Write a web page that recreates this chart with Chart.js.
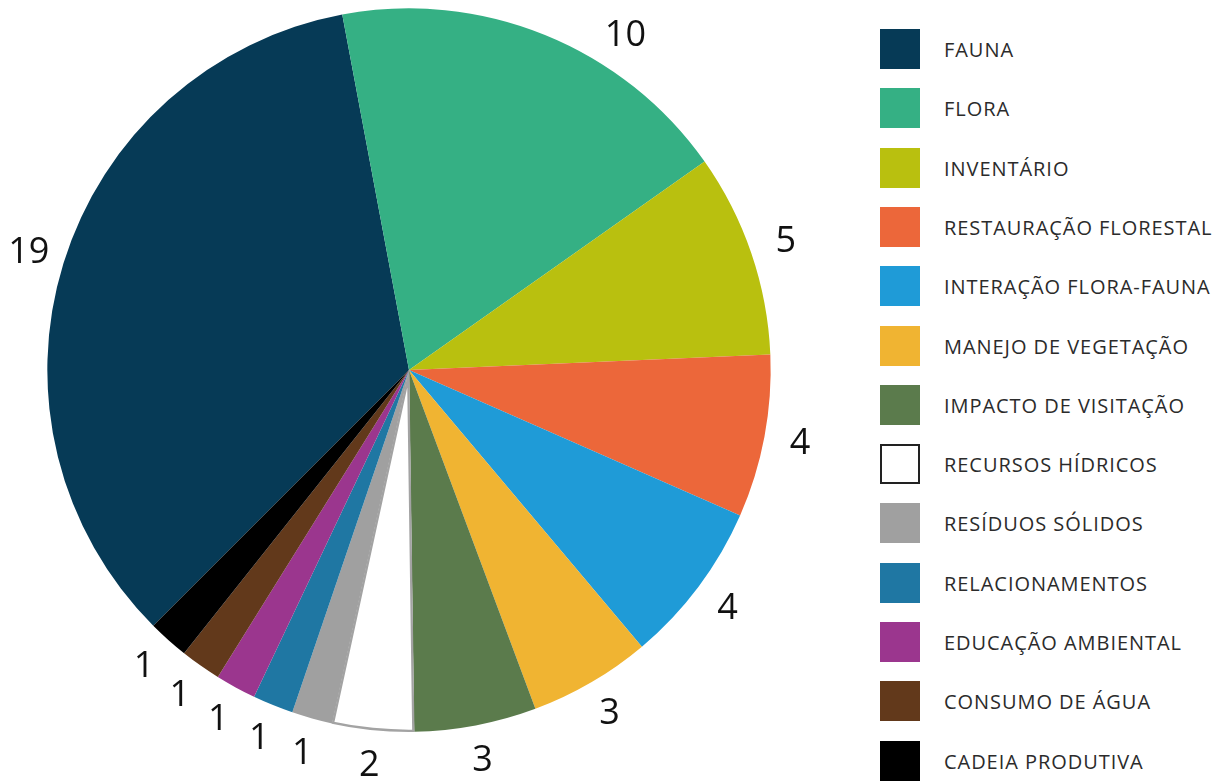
<!DOCTYPE html>
<html>
<head>
<meta charset="utf-8">
<script src="https://cdn.jsdelivr.net/npm/chart.js@4"></script>
<style>
  html, body { margin: 0; padding: 0; background: #fff; }
  body { width: 1227px; height: 783px; position: relative; overflow: hidden; font-family: "Open Sans", sans-serif; }
  #wrap { position: absolute; left: 0; top: 0; width: 860px; height: 783px; }
  #legend { position: absolute; left: 880px; top: 0; width: 347px; height: 783px; }
  .item { position: absolute; left: 0; height: 40px; display: flex; align-items: center; }
  .box { width: 40px; height: 40px; box-sizing: border-box; flex: none; }
  .txt { margin-left: 24px; font-size: 20px; color: #2b2b2b; white-space: nowrap; letter-spacing: 0.95px; }
</style>
</head>
<body>
<div id="wrap"><canvas id="c"></canvas></div>
<div id="legend"></div>
<script>
const categories = [
  "FAUNA", "FLORA", "INVENTÁRIO", "RESTAURAÇÃO FLORESTAL", "INTERAÇÃO FLORA-FAUNA",
  "MANEJO DE VEGETAÇÃO", "IMPACTO DE VISITAÇÃO", "RECURSOS HÍDRICOS", "RESÍDUOS SÓLIDOS",
  "RELACIONAMENTOS", "EDUCAÇÃO AMBIENTAL", "CONSUMO DE ÁGUA", "CADEIA PRODUTIVA"
];
const counts = [19, 10, 5, 4, 4, 3, 3, 2, 1, 1, 1, 1, 1];
const sliceColors = [
  "#063a56", "#35b084", "#b9c00f", "#ec673a", "#1f9bd7",
  "#f0b432", "#5b7b4c", "#ffffff", "#a0a0a0",
  "#1f77a3", "#9b368e", "#62391b", "#000000"
];
const sliceBorders = categories.map((_, i) => sliceColors[i] === "#ffffff" ? "#a3a3a3" : sliceColors[i]);
const sliceBorderWidths = categories.map((_, i) => sliceColors[i] === "#ffffff" ? 2 : 0);
const legendBorders = categories.map((_, i) => sliceColors[i] === "#ffffff" ? "2px solid #222" : "none");

const LABEL_FONT = 36;
const LABEL_GAP = 36;

const outsideLabels = {
  id: "outsideLabels",
  afterDatasetsDraw(chart) {
    const ctx = chart.ctx;
    const meta = chart.getDatasetMeta(0);
    const ds = chart.data.datasets[0];
    ctx.save();
    ctx.font = `500 ${LABEL_FONT}px "Open Sans", sans-serif`;
    ctx.fillStyle = "#111";
    ctx.textAlign = "center";
    ctx.textBaseline = "middle";
    const minY = LABEL_FONT;
    meta.data.forEach((arc, i) => {
      const p = arc.getProps(["x", "y", "startAngle", "endAngle", "outerRadius"], true);
      const r = p.outerRadius + LABEL_GAP;
      let a = (p.startAngle + p.endAngle) / 2;
      let lx = p.x + r * Math.cos(a);
      let ly = p.y + r * Math.sin(a);
      if (ly < minY) {
        // slide along the label circle until it fits inside the canvas
        const ca = Math.acos(Math.min(1, (p.y - minY) / r));
        const dir = Math.cos(a) >= 0 ? 1 : -1;
        a = -Math.PI / 2 + dir * ca;
        lx = p.x + r * Math.cos(a);
        ly = p.y + r * Math.sin(a);
      }
      ctx.fillText(String(ds.data[i]), lx, ly);
    });
    ctx.restore();
  }
};

new Chart(document.getElementById("c"), {
  type: "pie",
  data: {
    labels: categories,
    datasets: [{
      data: counts,
      backgroundColor: sliceColors,
      borderColor: sliceBorders,
      borderWidth: sliceBorderWidths,
      borderAlign: "inner"
    }]
  },
  options: {
    responsive: true,
    maintainAspectRatio: false,
    animation: false,
    rotation: -135,
    layout: { padding: { left: 47, right: 89, top: 8, bottom: 51 } },
    plugins: {
      legend: { display: false },
      tooltip: { enabled: false }
    }
  },
  plugins: [outsideLabels]
});

const legendEl = document.getElementById("legend");
categories.forEach((name, i) => {
  const item = document.createElement("div");
  item.className = "item";
  item.style.top = Math.round(29 + i * 59.3) + "px";
  const box = document.createElement("div");
  box.className = "box";
  box.style.background = sliceColors[i];
  box.style.border = legendBorders[i];
  const t = document.createElement("span");
  t.className = "txt";
  t.textContent = name;
  item.appendChild(box);
  item.appendChild(t);
  legendEl.appendChild(item);
});
</script>
</body>
</html>
